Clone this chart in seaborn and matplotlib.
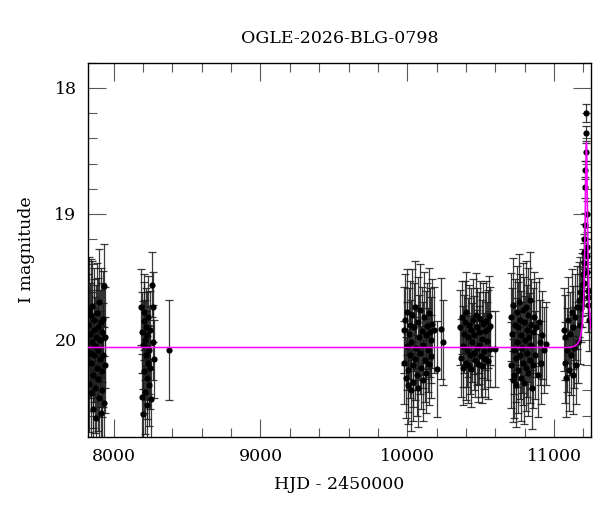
import numpy as np
import pandas as pd
import seaborn as sns
from matplotlib import pyplot as plt
from matplotlib.ticker import MultipleLocator

# light curve values, one list per season
t1 = [7828, 7831, 7834, 7836, 7839, 7842, 7845, 7848, 7851, 7854, 7857, 7860, 7863,
      7866, 7869, 7872, 7875, 7878, 7881, 7884, 7887, 7890, 7893, 7896, 7899, 7902,
      7905, 7908, 7911, 7914, 7917, 7920, 7923, 7926, 7929, 7932, 7935, 7938, 7941]
m1 = [19.88, 20.35, 19.76, 20.10, 19.95, 20.42, 19.80, 20.18, 20.02, 19.73, 20.28, 20.55, 19.92,
      20.12, 19.84, 20.38, 20.05, 19.98, 20.62, 20.22, 19.79, 20.08, 20.31, 19.90, 20.46, 19.70,
      20.15, 20.00, 20.58, 19.86, 20.25, 19.94, 20.40, 19.83, 20.12, 20.50, 19.57, 19.98, 20.20]
e1 = [0.40, 0.38, 0.42, 0.36, 0.40, 0.35, 0.44, 0.38, 0.40, 0.36, 0.42, 0.38, 0.40,
      0.37, 0.41, 0.36, 0.39, 0.42, 0.35, 0.38, 0.40, 0.37, 0.41, 0.39, 0.36, 0.42,
      0.38, 0.40, 0.37, 0.43, 0.36, 0.39, 0.40, 0.38, 0.41, 0.37, 0.33, 0.40, 0.38]

t2 = [8188, 8191, 8194, 8197, 8200, 8203, 8206, 8209, 8212, 8215, 8218, 8221, 8224,
      8227, 8230, 8233, 8236, 8239, 8242, 8245, 8250, 8255, 8260, 8265, 8270, 8274, 8380]
m2 = [19.74, 20.45, 19.94, 20.59, 20.04, 19.85, 20.25, 19.78, 20.41, 20.00, 20.12, 19.90, 20.30,
      20.52, 19.96, 20.18, 19.82, 20.36, 20.08, 19.92, 20.22, 20.47, 19.56, 20.02, 19.74, 20.15, 20.08]
e2 = [0.30, 0.34, 0.32, 0.33, 0.35, 0.31, 0.33, 0.30, 0.34, 0.32, 0.35, 0.31, 0.33,
      0.32, 0.34, 0.30, 0.33, 0.32, 0.35, 0.31, 0.33, 0.32, 0.26, 0.30, 0.28, 0.31, 0.40]

t3 = [9975, 9980, 9985, 9990, 9995, 10000, 10004, 10008, 10012, 10016, 10020, 10024,
      10028, 10032, 10036, 10040, 10045, 10050, 10055, 10060, 10065, 10070, 10075, 10080,
      10085, 10090, 10095, 10100, 10105, 10110, 10115, 10120, 10125, 10130, 10135, 10140,
      10145, 10150, 10155, 10160, 10165, 10170, 10180, 10205, 10232, 10245]
m3 = [19.92, 20.18, 19.84, 20.30, 20.05, 19.78, 20.24, 20.36, 19.95, 20.12, 19.88, 20.40,
      20.02, 19.80, 20.20, 20.33, 19.90, 19.74, 20.15, 20.06, 20.28, 19.86, 20.38, 19.98,
      20.10, 19.76, 20.22, 19.93, 20.32, 20.04, 19.82, 20.16, 19.96, 20.26, 19.89, 20.08,
      19.79, 20.19, 19.94, 20.00, 20.13, 19.87, 19.92, 20.23, 19.91, 20.02]
e3 = [0.34, 0.33, 0.36, 0.32, 0.35, 0.34, 0.33, 0.31, 0.36, 0.34, 0.35, 0.32,
      0.34, 0.36, 0.33, 0.31, 0.35, 0.37, 0.33, 0.34, 0.32, 0.36, 0.31, 0.34,
      0.33, 0.36, 0.33, 0.35, 0.32, 0.34, 0.36, 0.33, 0.35, 0.32, 0.34, 0.33,
      0.36, 0.33, 0.35, 0.34, 0.33, 0.35, 0.34, 0.38, 0.40, 0.34]

t4 = [10362, 10367, 10372, 10377, 10382, 10387, 10392, 10397, 10402, 10407, 10412,
      10417, 10422, 10427, 10432, 10437, 10442, 10447, 10452, 10457, 10462, 10467,
      10472, 10477, 10482, 10487, 10492, 10497, 10502, 10507, 10512, 10517, 10522,
      10527, 10532, 10537, 10542, 10547, 10552, 10557, 10562, 10567, 10600]
m4 = [19.90, 20.14, 19.82, 20.05, 20.22, 19.95, 19.86, 20.18, 19.78, 20.08, 19.98,
      20.20, 19.88, 20.12, 19.92, 20.23, 20.02, 19.84, 20.10, 19.96, 20.16, 19.80,
      20.06, 19.90, 20.19, 19.94, 20.04, 19.83, 20.13, 19.99, 20.21, 19.87, 20.09,
      19.93, 20.15, 19.85, 20.01, 20.17, 19.91, 19.81, 20.07, 19.89, 20.07]
e4 = [0.30, 0.31, 0.29, 0.32, 0.30, 0.31, 0.33, 0.30, 0.32, 0.29, 0.31,
      0.30, 0.32, 0.31, 0.33, 0.30, 0.31, 0.32, 0.30, 0.31, 0.29, 0.33,
      0.30, 0.31, 0.30, 0.32, 0.31, 0.30, 0.32, 0.31, 0.29, 0.32, 0.30,
      0.31, 0.30, 0.32, 0.31, 0.30, 0.31, 0.32, 0.30, 0.31, 0.30]

t5 = [10705, 10710, 10714, 10718, 10722, 10726, 10730, 10734, 10738, 10742, 10746,
      10750, 10754, 10758, 10762, 10766, 10770, 10774, 10778, 10782, 10786, 10790,
      10794, 10798, 10802, 10806, 10810, 10814, 10818, 10822, 10826, 10830, 10834,
      10838, 10842, 10846, 10850, 10855, 10860, 10866, 10872, 10880, 10888, 10895,
      10902, 10910, 10920, 10935, 10945]
m5 = [19.82, 20.20, 19.95, 20.32, 19.72, 20.08, 20.28, 19.88, 20.14, 20.36, 19.78,
      20.02, 19.90, 20.24, 19.70, 20.12, 19.84, 20.30, 19.96, 20.06, 19.76, 20.18,
      20.34, 19.86, 20.00, 19.74, 20.22, 19.92, 20.10, 19.80, 20.26, 19.98, 20.16,
      19.68, 20.04, 19.88, 20.38, 19.94, 20.20, 19.82, 20.12, 19.90, 20.28, 19.86,
      20.02, 20.18, 19.96, 20.08, 20.03]
e5 = [0.35, 0.34, 0.36, 0.33, 0.37, 0.35, 0.34, 0.36, 0.35, 0.33, 0.37,
      0.35, 0.36, 0.34, 0.38, 0.35, 0.36, 0.34, 0.35, 0.36, 0.37, 0.34,
      0.33, 0.36, 0.35, 0.37, 0.34, 0.36, 0.35, 0.37, 0.34, 0.35, 0.34,
      0.38, 0.35, 0.36, 0.33, 0.35, 0.34, 0.36, 0.35, 0.36, 0.33, 0.35,
      0.34, 0.33, 0.35, 0.34, 0.33]

t6 = [11066, 11072, 11078, 11084, 11090, 11096, 11102, 11108, 11114, 11120, 11126,
      11132, 11138, 11144, 11150, 11156, 11162, 11168, 11174, 11180, 11185, 11190,
      11194, 11198, 11201, 11203, 11205, 11207, 11209, 11211, 11214, 11216, 11218,
      11220, 11222, 11223, 11225, 11227, 11229, 11231, 11234, 11240]
m6 = [19.92, 20.18, 19.98, 20.30, 20.08, 19.84, 20.24, 19.95, 20.12, 19.78, 20.28,
      19.90, 20.06, 19.82, 20.20, 19.74, 20.02, 19.68, 19.88, 19.62, 19.75, 19.56,
      19.66, 19.48, 19.55, 19.39, 19.30, 19.20, 19.09, 18.79, 18.65, 18.51, 18.36,
      18.20, 19.00, 19.26, 19.33, 19.46, 19.61, 19.66, 19.72, 19.84]
e6 = [0.33, 0.32, 0.34, 0.31, 0.33, 0.34, 0.32, 0.33, 0.32, 0.34, 0.31,
      0.33, 0.32, 0.34, 0.31, 0.33, 0.32, 0.30, 0.31, 0.28, 0.27, 0.25,
      0.24, 0.20, 0.18, 0.16, 0.14, 0.12, 0.10, 0.08, 0.07, 0.07, 0.06,
      0.07, 0.10, 0.12, 0.13, 0.15, 0.18, 0.20, 0.22, 0.25]

# model curve
model_t = [7822, 11100, 11140, 11160, 11175, 11185, 11193, 11200, 11204, 11208, 11211,
           11214, 11217, 11219, 11221, 11223, 11225, 11228, 11231, 11235, 11240, 11246, 11252]
model_m = [20.06, 20.06, 20.05, 20.03, 20.00, 19.95, 19.87, 19.74, 19.60, 19.38, 19.12,
           18.86, 18.62, 18.48, 18.43, 18.50, 18.70, 19.02, 19.30, 19.55, 19.72, 19.84, 19.92]

df = pd.DataFrame({
    'hjd': t1 + t2 + t3 + t4 + t5 + t6,
    'mag': m1 + m2 + m3 + m4 + m5 + m6,
    'err': e1 + e2 + e3 + e4 + e5 + e6,
})
model = pd.DataFrame({'hjd': model_t, 'mag': model_m})

sns.set_style("ticks")
plt.rcParams['font.family'] = ['DejaVu Serif']
plt.rcParams['text.color'] = 'black'
plt.rcParams['axes.labelcolor'] = 'black'
plt.rcParams['xtick.labelcolor'] = 'black'
plt.rcParams['ytick.labelcolor'] = 'black'

fig = plt.figure(figsize=(6, 5.12), dpi=100)
ax = fig.add_axes([0.146, 0.1465, 0.839, 0.731])

ax.errorbar(df['hjd'], df['mag'], yerr=df['err'], fmt='none', ecolor='0.1',
            elinewidth=0.9, capsize=3.2, capthick=0.9, alpha=0.85, zorder=2)
sns.scatterplot(data=df, x='hjd', y='mag', ax=ax, color='black', s=20,
                edgecolor='black', linewidth=0, zorder=3)
sns.lineplot(data=model, x='hjd', y='mag', ax=ax, color='#ff00ff', linewidth=1.1,
             sort=False, zorder=4)

ax.set_xlim(7822, 11252)
ax.set_ylim(20.77, 17.80)
ax.xaxis.set_major_locator(MultipleLocator(1000))
ax.xaxis.set_minor_locator(MultipleLocator(200))
ax.yaxis.set_major_locator(MultipleLocator(1))
ax.yaxis.set_minor_locator(MultipleLocator(0.2))
ax.tick_params(which='both', direction='in', top=True, right=True, color='0.35')
ax.tick_params(which='major', length=13, width=0.8, labelsize=12.5, pad=8)
ax.tick_params(which='minor', length=6.5, width=0.8)
for sp in ax.spines.values():
    sp.set_linewidth(1.0)
    sp.set_color('black')

ax.set_xlabel('HJD - 2450000', fontsize=12.5, labelpad=8)
ax.set_ylabel('I magnitude', fontsize=12.5, labelpad=14)
ax.set_title('OGLE-2026-BLG-0798', fontsize=12.5, pad=14)

plt.savefig('out.png', dpi=100)
